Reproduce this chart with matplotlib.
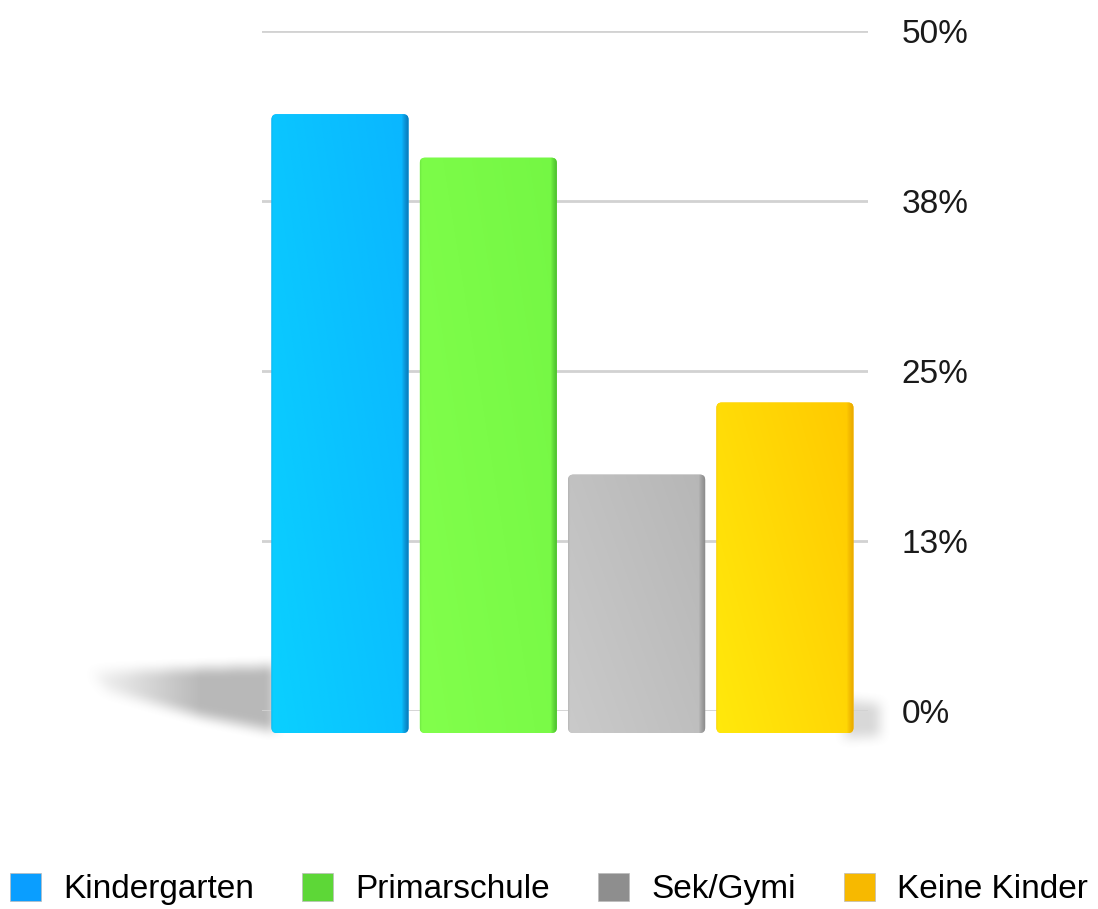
import numpy as np
import matplotlib
matplotlib.use("Agg")
import matplotlib.pyplot as plt
from matplotlib.patches import FancyBboxPatch, Patch
from matplotlib.path import Path
import matplotlib.transforms as mtransforms

# ---- data ----
categories = ["Kindergarten", "Primarschule", "Sek/Gymi", "Keine Kinder"]
values = [45.5, 42.3, 19.0, 24.3]
tick_values = [0, 12.5, 25, 37.5, 50]
tick_labels = ["0%", "13%", "25%", "38%", "50%"]

legend_colors = ["#0A9EFF", "#5DD737", "#8E8E8E", "#F7B900"]
bar_light = ["#0AD0FF", "#82FF4C", "#CACACA", "#FFE90C"]
bar_dark = ["#0AB6FF", "#74F744", "#B6B6B6", "#FFC900"]
bar_edge = ["#0A78B8", "#48B82C", "#888888", "#E9A800"]

plt.rcParams["font.family"] = ["Liberation Sans", "DejaVu Sans"]

W, H = 1098, 909
fig = plt.figure(figsize=(W / 100, H / 100), dpi=100)

# background axes in pixel coordinates for the floor shadows
bg = fig.add_axes([0, 0, 1, 1], zorder=-5)
bg.set_xlim(0, W)
bg.set_ylim(H, 0)
bg.axis("off")


def blur(a, r):
    k = np.ones(2 * r + 1) / (2 * r + 1)
    a = np.apply_along_axis(lambda m: np.convolve(m, k, mode="same"), 0, a)
    a = np.apply_along_axis(lambda m: np.convolve(m, k, mode="same"), 1, a)
    return a


def shadow(poly, x0, x1, y0, y1, r, strength, fade_from=None):
    yy, xx = np.mgrid[y0:y1, x0:x1]
    m = Path(poly).contains_points(np.c_[xx.ravel() + 0.5, yy.ravel() + 0.5]).reshape(y1 - y0, x1 - x0).astype(float)
    m = blur(blur(m, r), r // 2 + 1)
    if fade_from is not None:
        a, b = fade_from
        f = np.clip((np.arange(x0, x1) - a) / (b - a), 0, 1)
        m = m * f[None, :]
    rgba = np.zeros(m.shape + (4,))
    rgba[..., :3] = 0.5
    rgba[..., 3] = m * strength
    bg.imshow(rgba, extent=(x0, x1, y1, y0), interpolation="bilinear", zorder=1)


shadow([(90, 672), (275, 666), (275, 731), (200, 716), (105, 690)], 30, 330, 620, 780, 7, 0.55, (75, 200))
shadow([(845, 700), (880, 704), (880, 736), (845, 738)], 820, 920, 670, 770, 7, 0.3)

# main axes
left_px, right_px = 262, 868
y0_px, y50_px = 711, 31
ax = fig.add_axes([left_px / W, (H - y0_px) / H, (right_px - left_px) / W, (y0_px - y50_px) / H])
ax.set_xlim(-0.526, 3.56)
ax.set_ylim(0, 50)
ax.patch.set_alpha(0)
for s in ax.spines.values():
    s.set_visible(False)
ax.set_xticks([])
ax.yaxis.tick_right()
ax.set_yticks(tick_values)
ax.set_yticklabels(tick_labels, fontsize=24, color="#1A1A1A")
ax.tick_params(axis="y", length=0, pad=24)
for t in tick_values:
    ax.axhline(t, color="#D2D2D2", lw=2.0, zorder=0)

# bars shifted forward (down) to imitate the 3D floor
offset = mtransforms.ScaledTranslation(0, -22 / 100, fig.dpi_scale_trans)
tr = ax.transData + offset

x = np.arange(len(categories))
bars = ax.bar(x, values, width=0.924, transform=tr, zorder=3, clip_on=False)
for i, r in enumerate(bars):
    r.set_visible(False)
    bx, by, bw, bh = r.get_x(), r.get_y(), r.get_width(), r.get_height()
    fb = FancyBboxPatch((bx, by), bw, bh, boxstyle="round,pad=0,rounding_size=0.035",
                        mutation_aspect=11, transform=tr, facecolor=bar_dark[i],
                        edgecolor="none", zorder=3, clip_on=False)
    ax.add_patch(fb)
    nx, ny = 200, 60
    gx = np.linspace(0, 1, nx)[None, :]
    gy = np.linspace(0, 1, ny)[:, None]
    c1 = np.array(matplotlib.colors.to_rgb(bar_light[i]))
    c2 = np.array(matplotlib.colors.to_rgb(bar_dark[i]))
    ce = np.array(matplotlib.colors.to_rgb(bar_edge[i]))
    tmix = np.clip(0.6 * gx + 0.4 * gy, 0, 1)[..., None]
    img = c1 * (1 - tmix) + c2 * tmix
    edge = np.clip((gx - 0.95) / 0.05, 0, 1)[..., None] ** 0.8
    img = img * (1 - edge) + ce * edge
    ledge = np.clip((0.012 - gx) / 0.012, 0, 1)[..., None] * 0.25
    img = img * (1 - ledge) + ce * ledge
    im = ax.imshow(img, extent=(bx, bx + bw, by + bh, by), aspect="auto",
                   transform=tr, zorder=4, interpolation="bilinear", origin="upper")
    im.set_clip_path(fb)
    im.set_clip_box(fig.bbox)

ax.set_xlim(-0.526, 3.56)
ax.set_ylim(0, 50)

# legend
handles = [Patch(facecolor=c, edgecolor="#BBBBBB", linewidth=0.5) for c in legend_colors]
fig.legend(handles, categories, loc="center", bbox_to_anchor=(0.5, (H - 889) / H),
           ncol=4, frameon=False, fontsize=24, handlelength=0.93, handleheight=0.93,
           handletextpad=0.66, columnspacing=1.45, borderaxespad=0, borderpad=0)

fig.savefig("out.png", dpi=100)
